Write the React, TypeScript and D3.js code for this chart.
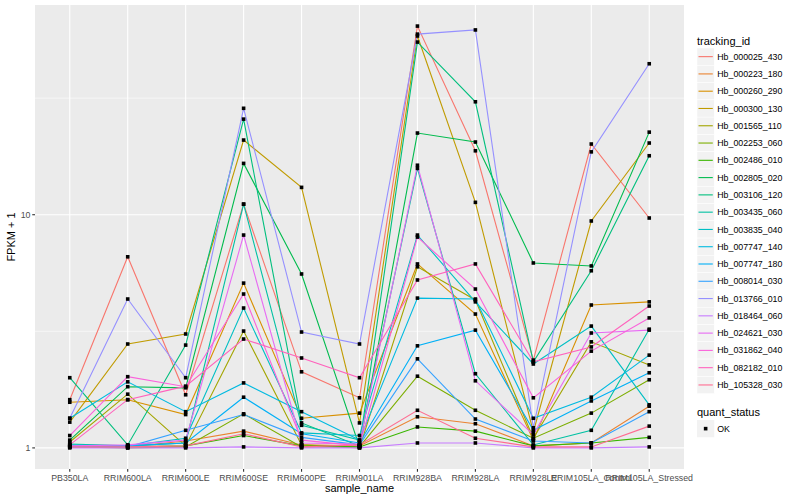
import * as d3 from "d3";

const sampleNames = [
  "PB350LA",
  "RRIM600LA",
  "RRIM600LE",
  "RRIM600SE",
  "RRIM600PE",
  "RRIM901LA",
  "RRIM928BA",
  "RRIM928LA",
  "RRIM928LE",
  "RRIM105LA_Control",
  "RRIM105LA_Stressed",
];

const trackingIds = [
  "Hb_000025_430",
  "Hb_000223_180",
  "Hb_000260_290",
  "Hb_000300_130",
  "Hb_001565_110",
  "Hb_002253_060",
  "Hb_002486_010",
  "Hb_002805_020",
  "Hb_003106_120",
  "Hb_003435_060",
  "Hb_003835_040",
  "Hb_007747_140",
  "Hb_007747_180",
  "Hb_008014_030",
  "Hb_013766_010",
  "Hb_018464_060",
  "Hb_024621_030",
  "Hb_031862_040",
  "Hb_082182_010",
  "Hb_105328_030",
];

// ggplot default hue palette for 20 groups
const hueColors = [
  "#F8766D", "#EA8331", "#D89000", "#C09B00", "#A3A500",
  "#7CAE00", "#39B600", "#00BB4E", "#00BF7D", "#00C1A3",
  "#00BFC4", "#00BAE0", "#00B0F6", "#35A2FF", "#9590FF",
  "#C77CFF", "#E76BF3", "#FA62DB", "#FF62BC", "#FF6C91",
];

// FPKM + 1, one row per tracking_id, one column per sample_name
const fpkmPlusOne: number[][] = [
  [1.61, 6.6, 1.69, 11.1, 2.12, 1.64, 64.4, 18.8, 2.38, 20.1, 9.68],
  [1.02, 1.01, 1.07, 1.18, 1.03, 1.02, 1.36, 1.27, 1.02, 1.05, 1.51],
  [1.57, 1.61, 1.39, 5.09, 1.34, 1.41, 6.15, 3.75, 1.08, 4.1, 4.23],
  [1.29, 2.79, 3.08, 20.9, 13.1, 1.28, 58.4, 11.3, 1.17, 9.4, 20.3],
  [1.06, 1.7, 1.02, 3.17, 1.03, 1.0, 5.98, 4.31, 1.1, 2.85, 2.27],
  [1.01, 1.0, 1.01, 1.4, 1.01, 1.01, 2.03, 1.45, 1.1, 1.41, 1.96],
  [1.01, 1.01, 1.02, 1.13, 1.02, 1.01, 1.23, 1.18, 1.02, 1.05, 1.11],
  [1.08, 1.83, 1.81, 16.6, 5.57, 1.01, 22.4, 20.5, 6.21, 6.03, 22.6],
  [2.0, 1.03, 2.76, 25.7, 1.28, 1.02, 55.0, 30.5, 2.34, 5.75, 17.9],
  [1.04, 1.02, 1.05, 11.1, 1.25, 1.08, 15.8, 2.08, 1.03, 1.19, 3.23],
  [1.03, 1.02, 1.1, 3.98, 1.16, 1.13, 8.18, 4.23, 2.29, 3.33, 1.53],
  [1.34, 1.92, 1.43, 1.9, 1.43, 1.08, 4.39, 4.35, 1.34, 1.65, 2.5],
  [1.02, 1.02, 1.05, 1.65, 1.15, 1.05, 2.74, 3.2, 1.19, 1.59, 2.1],
  [1.01, 1.01, 1.19, 1.39, 1.11, 1.03, 2.41, 1.33, 1.07, 1.05, 1.43],
  [1.34, 4.35, 2.0, 28.6, 3.14, 2.79, 59.5, 62.0, 1.22, 18.6, 44.4],
  [1.0, 1.0, 1.0, 1.01, 1.0, 1.0, 1.05, 1.05, 1.0, 1.0, 1.01],
  [1.02, 1.03, 1.08, 8.18, 1.05, 1.04, 16.3, 1.94, 1.14, 3.11, 3.2],
  [1.13, 2.02, 1.83, 4.57, 1.08, 1.02, 8.02, 4.8, 1.64, 2.6, 3.61],
  [1.03, 1.61, 1.84, 2.93, 2.43, 2.0, 5.25, 6.15, 2.34, 2.71, 4.06],
  [1.01, 1.01, 1.02, 1.15, 1.01, 1.03, 1.45, 1.1, 1.01, 1.01, 1.24],
];

const yMajorTicks = [1, 10];
const yMinorTicks = [3.162, 31.62];

const FONT = "'Liberation Sans', Arial, Helvetica, sans-serif";

export default function App() {
  const width = 800;
  const height = 500;
  const panel = { left: 35, right: 684, top: 5, bottom: 469 };

  const x = d3
    .scalePoint<string>()
    .domain(sampleNames)
    .range([panel.left, panel.right])
    .padding(0.6);

  const logs = fpkmPlusOne.flat().map((v) => Math.log10(v));
  const lo = d3.min(logs) ?? 0;
  const hi = d3.max(logs) ?? 1;
  const pad = (hi - lo) * 0.05;
  const y = d3
    .scaleLog()
    .domain([10 ** (lo - pad), 10 ** (hi + pad)])
    .range([panel.bottom, panel.top]);

  const line = d3
    .line<number>()
    .x((_, i) => x(sampleNames[i]) ?? 0)
    .y((v) => y(v));

  const legendX = 697;
  const keySize = 17.28;
  const keyTop = 48;
  const quantTop = 420;

  return (
    <div style={{ position: "absolute", left: 0, top: 0 }}>
      <svg width={width} height={height} style={{ display: "block", fontFamily: FONT }}>
        <rect x={0} y={0} width={width} height={height} fill="#ffffff" />
        <rect
          x={panel.left}
          y={panel.top}
          width={panel.right - panel.left}
          height={panel.bottom - panel.top}
          fill="#EBEBEB"
        />
        {yMinorTicks.map((t) => (
          <line key={`mn${t}`} x1={panel.left} x2={panel.right} y1={y(t)} y2={y(t)} stroke="#fff" strokeWidth={0.55} />
        ))}
        {yMajorTicks.map((t) => (
          <line key={`mj${t}`} x1={panel.left} x2={panel.right} y1={y(t)} y2={y(t)} stroke="#fff" strokeWidth={1.1} />
        ))}
        {sampleNames.map((s) => (
          <line key={`vx${s}`} x1={x(s)} x2={x(s)} y1={panel.top} y2={panel.bottom} stroke="#fff" strokeWidth={1.1} />
        ))}

        {fpkmPlusOne.map((row, i) => (
          <path key={trackingIds[i]} d={line(row) ?? ""} fill="none" stroke={hueColors[i]} strokeWidth={1.1} />
        ))}
        {fpkmPlusOne.map((row, i) =>
          row.map((v, j) => (
            <rect
              key={`p${i}-${j}`}
              x={(x(sampleNames[j]) ?? 0) - 1.8}
              y={y(v) - 1.8}
              width={3.6}
              height={3.6}
              fill="#000"
            />
          ))
        )}

        {/* y axis */}
        {yMajorTicks.map((t) => (
          <g key={`yt${t}`}>
            <line x1={panel.left - 2.75} x2={panel.left} y1={y(t)} y2={y(t)} stroke="#333" strokeWidth={1.1} />
            <text x={panel.left - 4.5} y={y(t)} dy="0.35em" textAnchor="end" fontSize={8.8} fill="#4D4D4D">
              {t}
            </text>
          </g>
        ))}
        {/* x axis */}
        {sampleNames.map((s) => (
          <g key={`xt${s}`}>
            <line x1={x(s)} x2={x(s)} y1={panel.bottom} y2={panel.bottom + 2.75} stroke="#333" strokeWidth={1.1} />
            <text x={x(s)} y={panel.bottom + 12} textAnchor="middle" fontSize={8.8} fill="#4D4D4D">
              {s}
            </text>
          </g>
        ))}
        <text x={(panel.left + panel.right) / 2} y={492} textAnchor="middle" fontSize={11} fill="#000">
          sample_name
        </text>
        <text
          transform={`translate(15, ${(panel.top + panel.bottom) / 2}) rotate(-90)`}
          textAnchor="middle"
          fontSize={11}
          fill="#000"
        >
          FPKM + 1
        </text>

        {/* legend: tracking_id */}
        <text x={legendX} y={44.5} fontSize={11} fill="#000">
          tracking_id
        </text>
        {trackingIds.map((id, i) => {
          const top = keyTop + i * keySize;
          return (
            <g key={`lg${id}`}>
              <rect x={legendX} y={top} width={keySize} height={keySize} fill="#F2F2F2" stroke="#fff" strokeWidth={0.5} />
              <line
                x1={legendX + 1.5}
                x2={legendX + keySize - 1.5}
                y1={top + keySize / 2}
                y2={top + keySize / 2}
                stroke={hueColors[i]}
                strokeWidth={1.1}
              />
              <text x={legendX + keySize + 3} y={top + keySize / 2} dy="0.35em" fontSize={8.8} fill="#000">
                {id}
              </text>
            </g>
          );
        })}

        {/* legend: quant_status */}
        <text x={legendX} y={416} fontSize={11} fill="#000">
          quant_status
        </text>
        <rect x={legendX} y={quantTop} width={keySize} height={keySize} fill="#F2F2F2" />
        <rect
          x={legendX + keySize / 2 - 1.8}
          y={quantTop + keySize / 2 - 1.8}
          width={3.6}
          height={3.6}
          fill="#000"
        />
        <text x={legendX + keySize + 3} y={quantTop + keySize / 2} dy="0.35em" fontSize={8.8} fill="#000">
          OK
        </text>
      </svg>
    </div>
  );
}
